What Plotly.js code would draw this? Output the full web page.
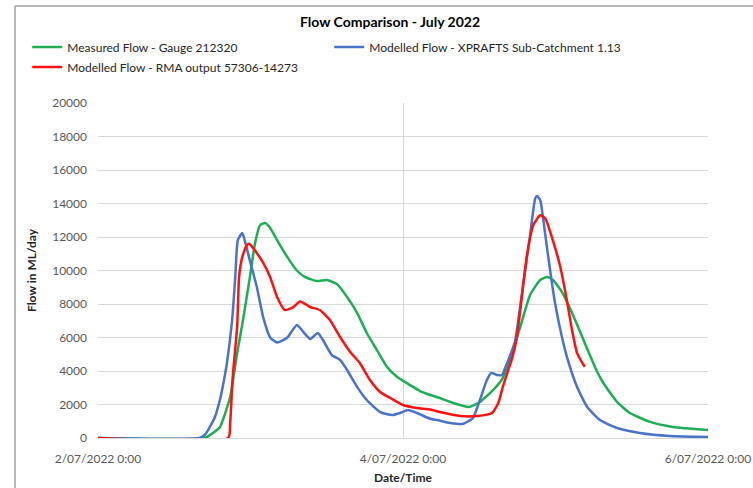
<!DOCTYPE html>
<html>
<head>
<meta charset="utf-8">
<script src="https://cdn.plot.ly/plotly-3.0.1.min.js"></script>
<style>html,body{margin:0;padding:0;background:#fff;}#chart{width:753px;height:488px;}</style>
</head>
<body>
<div id="chart"></div>
<script>
// Time values are hours after 2/07/2022 0:00
const startDate = '2022-07-02';
const endDate = '2022-07-06';
const xTickVals = ['2022-07-02', '2022-07-04', '2022-07-06'];

const measuredName = 'Measured Flow - Gauge 212320';
const measuredHours = [0, 16.8, 18.1, 19.2, 20.8, 21.9, 22.8, 23.9, 24.7, 25.5, 26.3, 27.1, 28.2, 29.8, 31.3, 32.6, 34.5, 36.0, 37.6, 39.2, 40.8, 42.3, 43.9, 45.5, 47.1, 49.1, 50.7, 52.3, 53.8, 55.9, 58.4, 60.1, 62.2, 63.7, 66.4, 68.0, 69.6, 70.7, 71.6, 73.0, 74.8, 76.3, 77.4, 78.5, 79.5, 81.7, 83.7, 86.9, 90.5, 96];
const measuredFlow = [0, 0, 300, 660, 2450, 5070, 7000, 9600, 11600, 12700, 12840, 12540, 11800, 10800, 10000, 9600, 9370, 9430, 9190, 8420, 7460, 6270, 5250, 4240, 3640, 3160, 2800, 2570, 2390, 2090, 1850, 2150, 2870, 3580, 6570, 8540, 9430, 9610, 9430, 8720, 7300, 5950, 4950, 4000, 3300, 2150, 1490, 960, 660, 480];

const xpraftsName = 'Modelled Flow - XPRAFTS Sub-Catchment 1.13';
const xpraftsHours = [0, 15.9, 16.8, 17.6, 18.4, 19.2, 19.7, 20.3, 21.1, 21.6, 22.0, 22.7, 23.1, 23.9, 25.0, 26.0, 27.1, 28.2, 29.8, 31.3, 32.6, 33.4, 34.6, 35.4, 36.8, 38.1, 39.2, 40.8, 42.3, 44.4, 46.3, 47.5, 48.8, 50.2, 52.3, 53.4, 55.4, 57.4, 59.0, 60.1, 61.2, 61.9, 62.8, 63.6, 64.1, 65.6, 66.9, 68.0, 68.8, 69.1, 69.6, 70.4, 71.1, 71.9, 72.7, 73.8, 75.4, 77.0, 79.0, 81.7, 85.3, 90.0, 96];
const xpraftsFlow = [0, 0, 180, 660, 1250, 2300, 3200, 4500, 7000, 9600, 11800, 12240, 11800, 10600, 9000, 7200, 6000, 5700, 6000, 6750, 6200, 5910, 6270, 5850, 4950, 4660, 4060, 3040, 2270, 1550, 1370, 1490, 1670, 1490, 1150, 1070, 900, 840, 1190, 2270, 3460, 3880, 3760, 3760, 4200, 5730, 9130, 12100, 14300, 14450, 14200, 12100, 10150, 8120, 6570, 4840, 3040, 1850, 1070, 600, 300, 120, 60];

const rmaName = 'Modelled Flow - RMA output 57306-14273';
const rmaHours = [0, 20.5, 20.8, 21.2, 21.9, 22.2, 22.7, 23.4, 23.8, 24.7, 26.0, 27.1, 28.2, 29.4, 30.7, 31.8, 33.4, 34.9, 36.5, 38.1, 39.7, 41.2, 42.8, 44.4, 46.0, 48.0, 50.2, 52.3, 53.8, 57.0, 59.7, 62.0, 63.0, 63.7, 64.4, 65.2, 65.9, 67.5, 68.5, 69.6, 70.4, 71.5, 72.7, 73.8, 74.6, 75.4, 76.6];
const rmaFlow = [0, 0, 900, 3640, 6630, 9600, 10800, 11500, 11600, 11200, 10450, 9600, 8400, 7640, 7800, 8150, 7820, 7640, 7040, 6030, 5130, 4480, 3460, 2750, 2390, 1970, 1790, 1700, 1550, 1310, 1310, 1490, 2090, 3040, 3880, 4800, 5970, 10900, 12700, 13300, 13100, 11900, 10300, 8200, 6450, 5070, 4240];

const startMs = Date.UTC(2022, 6, 2);
function toDates(hours) {
  return hours.map(h => new Date(startMs + h * 3600000).toISOString().replace('T', ' ').slice(0, 19));
}

const FONT = 'Lato, "Open Sans", sans-serif';

const traces = [
  {x: toDates(measuredHours), y: measuredFlow, name: measuredName, type: 'scatter', mode: 'lines',
   line: {color: '#1DAE55', width: 2.5, shape: 'spline', smoothing: 0.5}, legend: 'legend'},
  {x: toDates(xpraftsHours), y: xpraftsFlow, name: xpraftsName, type: 'scatter', mode: 'lines',
   line: {color: '#4A72C8', width: 2.5, shape: 'spline', smoothing: 0.5}, legend: 'legend'},
  {x: toDates(rmaHours), y: rmaFlow, name: rmaName, type: 'scatter', mode: 'lines',
   line: {color: '#FF1010', width: 2.5, shape: 'spline', smoothing: 0.5}, legend: 'legend2'}
];

const layout = {
  width: 753, height: 488,
  margin: {l: 98, r: 45, t: 103, b: 50},
  paper_bgcolor: '#ffffff', plot_bgcolor: '#ffffff',
  font: {family: FONT, size: 12, color: '#404040'},
  title: {text: '<b>Flow Comparison - July 2022</b>', font: {family: FONT, size: 14, color: '#000000'},
          x: 0.518, xref: 'container', xanchor: 'center', y: 1 - 22/488, yref: 'container', yanchor: 'middle'},
  showlegend: true,
  legend: {orientation: 'h', x: -0.116, xanchor: 'left', y: (438-47)/335, yanchor: 'middle',
           entrywidth: 257, font: {family: FONT, size: 12, color: '#262626'}, bgcolor: 'rgba(0,0,0,0)'},
  legend2: {orientation: 'h', x: -0.116, xanchor: 'left', y: (438-67)/335, yanchor: 'middle',
            font: {family: FONT, size: 12, color: '#262626'}, bgcolor: 'rgba(0,0,0,0)'},
  xaxis: {
    type: 'date', range: [startDate, endDate], tickvals: xTickVals, tickformat: '%-d/%m/%Y %-H:%M',
    showgrid: true, gridcolor: '#d9d9d9', gridwidth: 1, zeroline: false,
    showline: true, linecolor: '#d9d9d9', ticks: '', ticklabelstandoff: 10,
    tickfont: {family: FONT, size: 12, color: '#595959'},
    title: {text: '<b>Date/Time</b>', font: {family: FONT, size: 12, color: '#262626'}, standoff: 8}
  },
  yaxis: {
    range: [0, 20000], dtick: 2000, tick0: 0, showgrid: true, gridcolor: '#d9d9d9', gridwidth: 1,
    zeroline: false, showline: false, ticks: '', ticklabelstandoff: 10, tickformat: 'd',
    tickfont: {family: FONT, size: 12, color: '#595959'},
    title: {text: '<b>Flow in ML/day</b>', font: {family: FONT, size: 12, color: '#262626'}, standoff: 12}
  },
  shapes: [
    {type: 'line', xref: 'paper', yref: 'paper', x0: (15-98)/610, x1: (15-98)/610, y0: (438-488)/335, y1: (438-6)/335,
     line: {color: '#a0a0a0', width: 1.5}},
    {type: 'line', xref: 'paper', yref: 'paper', x0: (15-98)/610, x1: (753-98)/610, y0: (438-6)/335, y1: (438-6)/335,
     line: {color: '#a0a0a0', width: 1.5}}
  ]
};

Plotly.newPlot('chart', traces, layout, {staticPlot: true, displayModeBar: false});
</script>
</body>
</html>
